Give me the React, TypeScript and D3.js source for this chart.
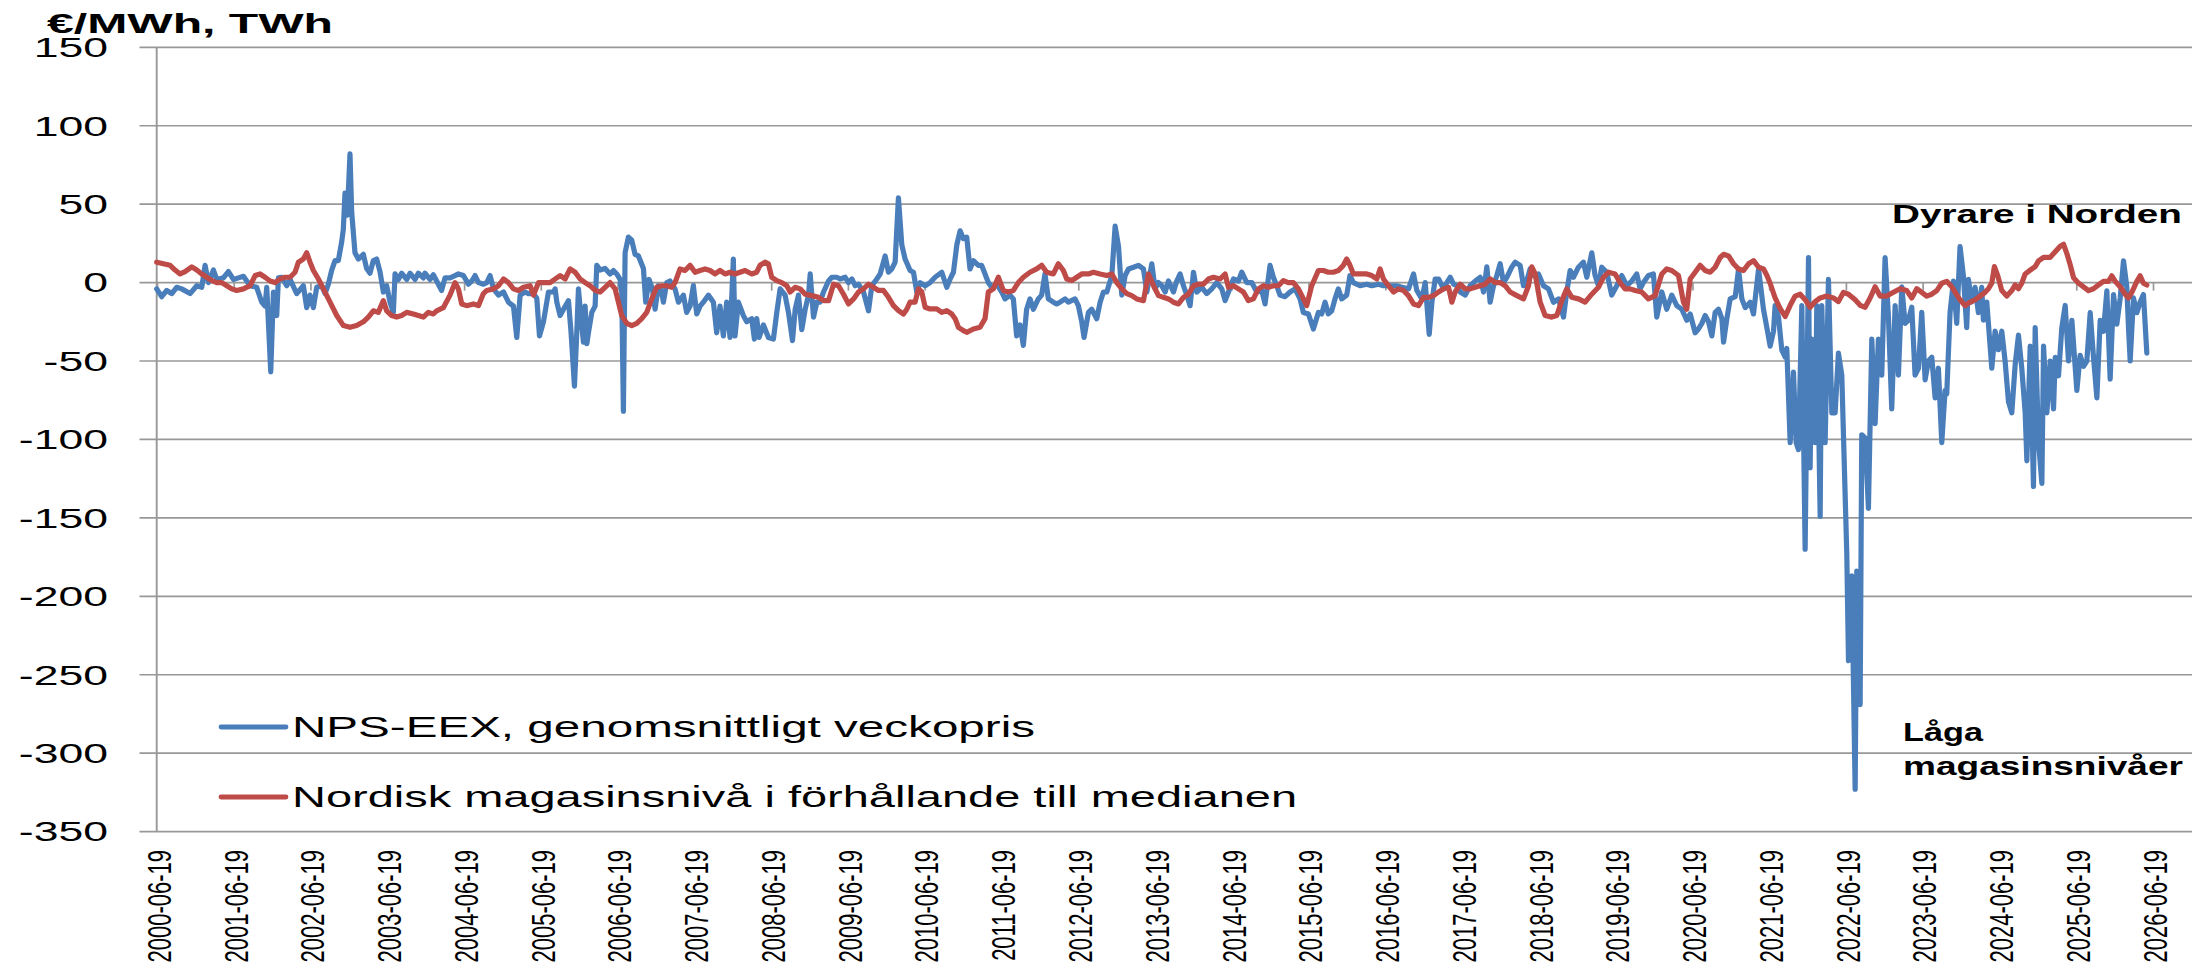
import React from "react";
import * as d3 from "d3";

const W = 2192;
const H = 968;

const chartTitle = "€/MWh, TWh";
const yTicks = [150, 100, 50, 0, -50, -100, -150, -200, -250, -300, -350];
const xTickLabels = [
  "2000-06-19", "2001-06-19", "2002-06-19", "2003-06-19", "2004-06-19", "2005-06-19",
  "2006-06-19", "2007-06-19", "2008-06-19", "2009-06-19", "2010-06-19", "2011-06-19",
  "2012-06-19", "2013-06-19", "2014-06-19", "2015-06-19", "2016-06-19", "2017-06-19",
  "2018-06-19", "2019-06-19", "2020-06-19", "2021-06-19", "2022-06-19", "2023-06-19",
  "2024-06-19", "2025-06-19", "2026-06-19",
];
const seriesNames = [
  "NPS-EEX, genomsnittligt veckopris",
  "Nordisk magasinsnivå i förhållande till medianen",
];
const noteHigh = "Dyrare i Norden";
const noteLow = ["Låga", "magasinsnivåer"];

// NPS-EEX price difference, [decimal year, €/MWh]
const price2000_2005: [number, number][] = [
  [2000.454,-4],[2000.519,-9],[2000.584,-5],[2000.649,-7],[2000.714,-3],[2000.779,-4],[2000.888,-7],[2000.975,-2],
  [2001.040,-3],[2001.083,11],[2001.127,0],[2001.192,8],[2001.235,2],[2001.322,3],[2001.387,7],[2001.453,2],
  [2001.518,3],[2001.583,4],[2001.670,-2],[2001.756,-3],[2001.822,-12.5],[2001.865,-15],[2001.887,-3],[2001.939,-57],
  [2001.974,-6],[2002.017,-21],[2002.039,3],[2002.082,3.4],[2002.147,-2],[2002.191,2],[2002.278,-7],[2002.364,-2],
  [2002.408,-16],[2002.451,-8],[2002.495,-16],[2002.538,-3],[2002.603,-2],[2002.647,-7],[2002.690,-1],[2002.734,8],
  [2002.777,14],[2002.820,14],[2002.864,26],[2002.885,34],[2002.907,57],[2002.937,43],[2002.972,82],[2002.994,45],
  [2003.037,19],[2003.081,15],[2003.146,18],[2003.189,9],[2003.233,6],[2003.276,14],[2003.320,15],[2003.363,7],
  [2003.407,-6],[2003.450,-2],[2003.494,-12.5],[2003.537,-19],[2003.559,5.5],[2003.602,2],[2003.645,6],[2003.711,2],
  [2003.754,6],[2003.819,2],[2003.863,6],[2003.928,3],[2003.949,6],[2004.015,2],[2004.058,5],[2004.101,1],
  [2004.166,-5],[2004.210,3],[2004.275,3],[2004.340,4.5],[2004.384,5.5],[2004.449,4.5],[2004.514,-1],[2004.558,1],
  [2004.601,4.5],[2004.645,0],[2004.710,-1],[2004.753,0],[2004.796,4.5],[2004.840,-4],[2004.905,-8],[2004.970,-6],
  [2005.035,-12.5],[2005.100,-15],[2005.143,-35],[2005.187,-8],[2005.252,-6],[2005.295,-7],[2005.360,-7],[2005.404,-10],
  [2005.439,-34],[2005.491,-25],[2005.556,-6],[2005.621,-6],
];
const price2005_2011: [number, number][] = [
  [2005.643,-4],[2005.665,-12.5],[2005.708,-21],[2005.752,-17],[2005.817,-11.5],[2005.851,-32],[2005.895,-66],[2005.925,-32],
  [2005.947,-4],[2005.982,-23],[2006.012,-38],[2006.034,-15],[2006.056,-39],[2006.077,-32],[2006.121,-19],[2006.164,-15],
  [2006.186,11],[2006.229,8],[2006.294,9],[2006.359,5.5],[2006.403,7.7],[2006.446,5.5],[2006.490,2],[2006.511,-6],
  [2006.533,-82],[2006.555,19],[2006.598,29],[2006.642,27],[2006.685,18],[2006.729,17],[2006.794,9],[2006.824,-12.5],
  [2006.867,2],[2006.911,-4],[2006.946,-17],[2006.989,-2],[2007.032,-6],[2007.054,-12.5],[2007.098,0],[2007.141,1],
  [2007.206,-4],[2007.250,-12.5],[2007.315,-8],[2007.358,-19],[2007.402,-15],[2007.445,-2],[2007.489,-20],[2007.532,-15],
  [2007.575,-12.5],[2007.640,-8],[2007.706,-12.5],[2007.749,-32],[2007.792,-15],[2007.836,-34],[2007.879,-12.5],[2007.923,-35],
  [2007.966,15],[2007.988,-34],[2008.031,-12.5],[2008.096,-21],[2008.140,-25],[2008.205,-23],[2008.240,-36],[2008.270,-23],
  [2008.301,-35],[2008.357,-27],[2008.422,-35],[2008.487,-36],[2008.531,-19],[2008.574,-4],[2008.639,-8],[2008.683,-19],
  [2008.735,-37],[2008.770,-17],[2008.813,-8],[2008.856,-30],[2008.900,-17],[2008.943,-8],[2008.965,5.5],[2009.008,-22],
  [2009.052,-12.5],[2009.095,-12.5],[2009.138,-6],[2009.204,1],[2009.247,3.4],[2009.312,3.4],[2009.356,2.3],[2009.421,3.4],
  [2009.464,0],[2009.508,2.3],[2009.551,-2],[2009.594,-1],[2009.660,-6],[2009.725,-18],[2009.768,-2],[2009.833,2.3],
  [2009.877,5.5],[2009.942,17],[2009.985,6.6],[2010.029,8.7],[2010.072,13],[2010.115,54],[2010.159,24],[2010.202,15],
  [2010.267,7.7],[2010.311,6.6],[2010.354,-6],[2010.398,0],[2010.463,-2],[2010.528,0],[2010.593,3.4],[2010.680,6.6],
  [2010.745,-3],[2010.789,2.3],[2010.832,6.6],[2010.876,24],[2010.919,33],[2010.962,28],
];
const price2011_2016: [number, number][] = [
  [2011.005,29],[2011.048,8.7],[2011.092,14],[2011.157,11],[2011.200,11],[2011.244,5.5],[2011.287,0],[2011.330,-3],
  [2011.396,-1],[2011.461,-6],[2011.504,-10.4],[2011.569,-8],[2011.613,-10.4],[2011.656,-34],[2011.700,-27],[2011.743,-40],
  [2011.786,-17],[2011.830,-10.4],[2011.873,-17],[2011.938,-10.4],[2011.982,-8],[2012.025,5.5],[2012.069,-10.4],[2012.134,-12.5],
  [2012.177,-13.6],[2012.221,-12.5],[2012.286,-10.4],[2012.329,-12.5],[2012.416,-10.4],[2012.459,-14.7],[2012.503,-25],[2012.533,-35],
  [2012.590,-19],[2012.633,-17],[2012.698,-23],[2012.742,-12.5],[2012.785,-6],[2012.829,-6],[2012.894,4.5],[2012.937,36],
  [2012.981,23],[2013.024,-8],[2013.067,4.5],[2013.111,8.7],[2013.176,9.8],[2013.241,11],[2013.306,8.7],[2013.350,-6],
  [2013.415,12],[2013.458,-4],[2013.502,0],[2013.545,-2],[2013.589,-6],[2013.632,1],[2013.697,-6],[2013.740,1],
  [2013.784,5.5],[2013.827,-2],[2013.871,-8],[2013.914,-14.7],[2013.958,6.6],[2014.001,-6],[2014.066,-3],[2014.131,-7],
  [2014.196,-4],[2014.262,0],[2014.327,-4],[2014.370,-11.5],[2014.414,-6],[2014.479,2.3],[2014.544,1],[2014.587,6.6],
  [2014.653,0],[2014.718,0],[2014.783,-6],[2014.848,-5],[2014.891,-13.6],[2014.956,11],[2014.999,3.4],[2015.043,-2],
  [2015.086,-8],[2015.151,-9],[2015.217,-6],[2015.282,-4],[2015.347,-10.4],[2015.390,-19],[2015.456,-20],[2015.521,-29.6],
  [2015.586,-19],[2015.629,-20],[2015.673,-12.5],[2015.716,-20],[2015.760,-18],[2015.803,-10.4],[2015.846,-4],[2015.890,-10.4],
  [2015.955,-8],[2015.998,4.5],[2016.042,0],[2016.129,-2],[2016.215,-1],
];
const price2016_2021: [number, number][] = [
  [2016.281,-2],[2016.368,-1],[2016.433,-2],[2016.520,-2],[2016.607,-2],[2016.672,-3],[2016.759,-4],[2016.824,5.5],
  [2016.867,-5],[2016.932,-10.4],[2016.976,0],[2017.028,-33],[2017.063,-12.5],[2017.106,2.3],[2017.150,2.3],[2017.215,-4],
  [2017.258,0],[2017.301,3.4],[2017.345,-1],[2017.388,-2],[2017.432,-6],[2017.497,-8],[2017.562,-2],[2017.627,1],
  [2017.692,3.4],[2017.736,-6],[2017.779,10],[2017.822,-12.5],[2017.866,-2],[2017.909,4.5],[2017.953,12],[2017.996,0],
  [2018.040,3.4],[2018.105,10],[2018.148,13],[2018.213,11],[2018.257,-2],[2018.300,1],[2018.343,8.7],[2018.387,4.5],
  [2018.452,5.5],[2018.517,-2],[2018.582,-4],[2018.647,-12.5],[2018.713,-10.4],[2018.778,-22],[2018.821,-6],[2018.865,7.7],
  [2018.908,3.4],[2018.973,9.8],[2019.038,13],[2019.082,3.4],[2019.103,8.7],[2019.147,19],[2019.190,4.5],[2019.234,-2],
  [2019.277,9.8],[2019.342,6.6],[2019.407,-8],[2019.473,-2],[2019.538,4.5],[2019.603,-2],[2019.668,1],[2019.733,5.5],
  [2019.777,-4],[2019.820,0],[2019.885,4.5],[2019.950,5.5],[2019.994,-22],[2020.059,-6],[2020.124,-17],[2020.189,-8],
  [2020.254,-14.7],[2020.319,-17],[2020.384,-24],[2020.428,-20],[2020.493,-32],[2020.536,-29.6],[2020.580,-26],[2020.623,-21],
  [2020.667,-25],[2020.710,-34],[2020.753,-19],[2020.797,-17],[2020.840,-23],[2020.862,-38],[2020.905,-23],[2020.948,-10.4],
  [2021.014,-9],[2021.057,8.7],[2021.100,-10.4],[2021.144,-16],[2021.209,-12.5],[2021.252,-20],[2021.318,8.7],
];
const price2021_2023: [number, number][] = [
  [2021.382,-17],[2021.426,-28.7],[2021.469,-40.5],[2021.513,-31],[2021.534,-14.6],[2021.578,-22],[2021.621,-43],[2021.665,-47.5],
  [2021.686,-42],[2021.730,-102],[2021.773,-57],[2021.808,-102],[2021.838,-106.5],[2021.882,-14.6],[2021.925,-170],[2021.969,16],
  [2021.990,-118],[2022.012,-36],[2022.055,-102],[2022.077,-14.6],[2022.121,-149],[2022.142,-14.6],[2022.186,-102],[2022.229,2],
  [2022.273,-83],[2022.316,-83],[2022.359,-45],[2022.403,-59],[2022.468,-173],[2022.490,-241],[2022.533,-187],[2022.577,-323],
  [2022.598,-184],[2022.642,-269],[2022.663,-97],[2022.707,-99],[2022.750,-144],[2022.794,-36],[2022.837,-90],[2022.880,-36],
  [2022.924,-59],[2022.967,16],[2023.011,-22],[2023.054,-80.5],[2023.098,-14.6],[2023.141,-59],[2023.185,-2.7],[2023.228,-26],
  [2023.271,-24],[2023.315,-15.7],[2023.358,-59],[2023.402,-54.6],[2023.445,-19],[2023.489,-62],[2023.532,-50],[2023.576,-47.6],
  [2023.619,-73.5],[2023.662,-54.6],[2023.706,-102],[2023.749,-68.8],[2023.771,-71],[2023.814,-19],[2023.858,1],[2023.901,-26],
];
const price2024_2026: [number, number][] = [
  [2023.944,23],[2023.988,4.3],[2024.031,-28.7],[2024.053,2],[2024.096,-12.4],[2024.140,-3],[2024.183,-19.2],[2024.226,-3],
  [2024.248,-24],[2024.292,-12.4],[2024.357,-54.6],[2024.400,-31],[2024.443,-42.8],[2024.487,-31],[2024.530,-50],[2024.574,-76],
  [2024.617,-83],[2024.661,-52.3],[2024.704,-33.5],[2024.747,-54.6],[2024.791,-83],[2024.813,-113.6],[2024.856,-40.5],[2024.899,-130],
  [2024.921,-28.7],[2024.965,-101.8],[2025.008,-128],[2025.030,-40.5],[2025.073,-83],[2025.117,-50],[2025.160,-80.6],[2025.182,-47.6],
  [2025.225,-59.4],[2025.268,-28.7],[2025.312,-14.6],[2025.355,-50],[2025.399,-24],[2025.464,-68.8],[2025.507,-46.4],[2025.551,-53.4],
  [2025.594,-50],[2025.638,-19.2],[2025.681,-47.6],[2025.725,-73.5],[2025.768,-24],[2025.811,-31],[2025.855,-5.3],[2025.898,-61.6],
  [2025.942,-7.6],[2025.985,-26.5],[2026.029,-9.8],[2026.072,13.8],[2026.115,-2.7],[2026.137,-28.7],[2026.159,-50],[2026.202,-9.8],
  [2026.246,-19.2],[2026.289,-12.4],[2026.332,-7.6],[2026.376,-45],
];

// Nordic reservoir level relative to median, [decimal year, TWh]
const reservoir2000_2005: [number, number][] = [
  [2000.454,13],[2000.541,12],[2000.628,11],[2000.693,8],[2000.758,5.5],[2000.823,7],[2000.910,10],[2000.975,8],
  [2001.040,5.5],[2001.105,3.4],[2001.170,1.3],[2001.235,0],[2001.301,0],[2001.366,-2],[2001.431,-4],[2001.496,-5],
  [2001.583,-4],[2001.670,-2],[2001.735,4.5],[2001.800,5.5],[2001.865,3.4],[2001.930,1],[2001.995,0],[2002.060,2.3],
  [2002.126,3.4],[2002.191,3.4],[2002.256,6.6],[2002.299,13],[2002.364,15],[2002.408,19],[2002.451,13],[2002.495,7.7],
  [2002.560,2.3],[2002.625,-4],[2002.712,-12.5],[2002.799,-21],[2002.886,-27.4],[2002.972,-28.5],[2003.059,-27.4],[2003.146,-25],
  [2003.211,-22],[2003.276,-18],[2003.341,-19],[2003.407,-11.5],[2003.450,-18],[2003.515,-21],[2003.580,-22],[2003.645,-21],
  [2003.711,-19],[2003.798,-20],[2003.863,-21],[2003.928,-22],[2003.993,-19],[2004.058,-20],[2004.101,-18],[2004.188,-16],
  [2004.275,-8],[2004.340,0],[2004.384,-4],[2004.427,-13.6],[2004.492,-14.7],[2004.579,-13.6],[2004.644,-14.7],[2004.709,-7],
  [2004.753,-5],[2004.840,-4],[2004.905,-2],[2004.970,2.3],[2005.035,0],[2005.100,-4],[2005.165,-5],[2005.230,-3],
  [2005.317,-2],[2005.361,-8],[2005.426,0],[2005.491,0],[2005.578,0],
];
const reservoir2005_2011: [number, number][] = [
  [2005.643,2.3],[2005.708,4.5],[2005.773,2.3],[2005.838,8.7],[2005.904,6.6],[2005.969,2.3],[2006.034,0],[2006.099,-2],
  [2006.164,-5],[2006.229,-6],[2006.294,-3],[2006.359,0],[2006.425,-4],[2006.468,-12.5],[2006.511,-21],[2006.577,-26],
  [2006.642,-27.4],[2006.707,-26],[2006.772,-23],[2006.837,-19],[2006.902,-10.4],[2006.967,-3],[2007.032,-2],[2007.098,-2],
  [2007.163,-3],[2007.206,0],[2007.271,8.7],[2007.336,7.7],[2007.402,11],[2007.467,6.6],[2007.532,7.7],[2007.597,8.7],
  [2007.662,7.7],[2007.727,5.5],[2007.792,7.7],[2007.858,5.5],[2007.923,6.6],[2007.988,5.5],[2008.053,6.6],[2008.118,7.7],
  [2008.205,5.5],[2008.270,6.6],[2008.313,11],[2008.379,13],[2008.422,12],[2008.465,3.4],[2008.530,1.3],[2008.596,0],
  [2008.661,-2],[2008.704,-6],[2008.769,-3],[2008.834,-4],[2008.900,-7.4],[2008.986,-8.3],[2009.073,-9.4],[2009.139,-11.5],
  [2009.204,-11.5],[2009.269,-1],[2009.334,-2],[2009.399,-7.4],[2009.464,-13.6],[2009.530,-10.4],[2009.595,-6],[2009.660,-4],
  [2009.725,-1],[2009.790,-3],[2009.855,-5],[2009.920,-5],[2009.985,-9.4],[2010.050,-14.7],[2010.116,-17.9],[2010.181,-20],
  [2010.224,-17],[2010.267,-12.5],[2010.332,-12.5],[2010.376,-4],[2010.419,-6],[2010.463,-15.7],[2010.528,-16.8],[2010.615,-16.8],
  [2010.680,-19],[2010.745,-17.9],[2010.810,-20],[2010.854,-23],[2010.897,-28.5],[2010.962,-30.6],
];
const reservoir2011_2016: [number, number][] = [
  [2011.005,-31.7],[2011.092,-29.6],[2011.179,-28.5],[2011.244,-23],[2011.287,-6],[2011.352,-4],[2011.417,3.4],[2011.482,-5],
  [2011.548,-6],[2011.613,-5],[2011.678,0],[2011.743,3.4],[2011.830,6.6],[2011.917,8.7],[2011.982,11],[2012.047,6.6],
  [2012.134,5.5],[2012.199,12],[2012.264,7.7],[2012.308,2.3],[2012.373,1.3],[2012.438,3.4],[2012.503,5.5],[2012.590,5.5],
  [2012.655,6.6],[2012.742,5.5],[2012.829,4.5],[2012.894,5.5],[2012.959,0],[2013.024,-4],[2013.089,-7],[2013.154,-8.3],
  [2013.219,-10.4],[2013.306,-11.5],[2013.371,5.5],[2013.437,-2],[2013.502,-8.3],[2013.567,-9.4],[2013.632,-10.4],[2013.697,-12.5],
  [2013.762,-13.6],[2013.827,-9.4],[2013.892,-7.4],[2013.958,-2],[2014.023,-1],[2014.088,-1],[2014.153,2.3],[2014.218,3.4],
  [2014.305,2.3],[2014.370,5.5],[2014.414,-3],[2014.479,-2],[2014.544,-4],[2014.609,-6],[2014.674,-11.5],[2014.739,-10.4],
  [2014.804,-4],[2014.870,-2],[2014.935,-3],[2015.000,-2],[2015.065,-2],[2015.130,1.3],[2015.195,0],[2015.260,0],
  [2015.326,-4],[2015.391,-10.4],[2015.434,-14.7],[2015.499,-2],[2015.586,7.7],[2015.651,7.7],[2015.716,6.6],[2015.781,6.6],
  [2015.847,7.7],[2015.912,11],[2015.955,15],[2015.998,11],[2016.042,5.5],[2016.129,5.5],[2016.216,5.5],
];
const reservoir2016_2021: [number, number][] = [
  [2016.281,4.5],[2016.346,2.3],[2016.389,8.7],[2016.433,2.3],[2016.498,-2],[2016.563,-6],[2016.628,-4],[2016.693,-5],
  [2016.758,-8.3],[2016.824,-13.6],[2016.889,-14.7],[2016.954,-9.4],[2017.019,-9.4],[2017.084,-8.3],[2017.149,-6],[2017.215,-4],
  [2017.280,-3],[2017.323,-12.5],[2017.366,-6],[2017.432,-1],[2017.497,-4],[2017.562,-4],[2017.627,-3],[2017.692,-2],
  [2017.757,-1],[2017.822,2.3],[2017.888,0],[2017.953,0],[2018.018,-2],[2018.083,-6],[2018.170,-8.3],[2018.257,-10.4],
  [2018.322,-2],[2018.365,10],[2018.409,5.5],[2018.474,-12.5],[2018.539,-21],[2018.626,-22],[2018.691,-21],[2018.756,-11.5],
  [2018.821,-4],[2018.886,-9.4],[2018.973,-10.4],[2019.060,-12.5],[2019.147,-7.4],[2019.234,-3],[2019.299,3.4],[2019.364,6.6],
  [2019.451,5.5],[2019.516,0],[2019.581,-4],[2019.646,-4],[2019.712,-5],[2019.798,-6],[2019.885,-10.4],[2019.972,-8.3],
  [2020.059,5.5],[2020.124,8.7],[2020.189,7.7],[2020.276,4.5],[2020.341,-12.5],[2020.384,-17],[2020.428,2.3],[2020.493,6.6],
  [2020.558,11],[2020.623,7.7],[2020.688,6.6],[2020.753,9.8],[2020.818,16],[2020.862,18],[2020.927,17],[2020.992,12],
  [2021.057,8.7],[2021.122,7.7],[2021.188,12],[2021.253,14],[2021.318,9.8],[2021.383,8.7],[2021.427,4.5],
];
const reservoir2021_2026: [number, number][] = [
  [2021.469,-0.4],[2021.534,-9.8],[2021.600,-16.6],[2021.665,-21.6],[2021.730,-14.5],[2021.795,-8.6],[2021.860,-7.4],[2021.925,-10.9],
  [2021.990,-15.7],[2022.056,-12.1],[2022.121,-9.8],[2022.207,-8.6],[2022.294,-9.8],[2022.359,-12.1],[2022.425,-6.2],[2022.490,-7.4],
  [2022.577,-11],[2022.642,-14.5],[2022.707,-15.7],[2022.772,-9.8],[2022.837,-2.7],[2022.902,-8.6],[2022.989,-8.6],[2023.076,-6.2],
  [2023.163,-3.9],[2023.250,-5.1],[2023.315,-9.8],[2023.380,-3.9],[2023.445,-6.2],[2023.510,-8.6],[2023.575,-7.4],[2023.641,-5.1],
  [2023.706,-0.4],[2023.771,0.8],[2023.836,-2.7],[2023.944,-11],[2024.009,-14.6],[2024.074,-12.4],[2024.140,-11],[2024.205,-8.6],
  [2024.270,-6.2],[2024.313,-3.9],[2024.357,-0.4],[2024.391,10.2],[2024.435,4.3],[2024.487,-5.1],[2024.552,-8.6],[2024.617,-5.1],
  [2024.661,-1.5],[2024.704,-3.9],[2024.747,-0.4],[2024.791,5.5],[2024.856,7.9],[2024.921,10.2],[2024.965,13.8],[2025.030,16.1],
  [2025.117,16.1],[2025.182,19.7],[2025.247,23.2],[2025.291,24.4],[2025.334,18.5],[2025.377,11.4],[2025.421,3.1],[2025.486,-0.4],
  [2025.551,-2.7],[2025.616,-5.1],[2025.681,-3.9],[2025.746,-1.5],[2025.811,0.8],[2025.876,0.8],[2025.920,4.3],[2025.963,0.8],
  [2026.028,-2.7],[2026.094,-7.4],[2026.137,-9.8],[2026.180,-6.2],[2026.246,0.8],[2026.289,4.3],[2026.332,-0.4],[2026.376,-1.5],
];

const priceSeries = [
  ...price2000_2005, ...price2005_2011, ...price2011_2016,
  ...price2016_2021, ...price2021_2023, ...price2024_2026,
];
const reservoirSeries = [
  ...reservoir2000_2005, ...reservoir2005_2011, ...reservoir2011_2016,
  ...reservoir2016_2021, ...reservoir2021_2026,
];

const BLUE = "#4a7ebb";
const RED = "#be4b48";
const GRID = "#989898";
const FONT = "'Liberation Sans', Arial, sans-serif";

const parseDay = d3.utcParse("%Y-%m-%d");
function decToDate(d: number): Date {
  const yr = Math.floor(d);
  const s = Date.UTC(yr, 0, 1);
  const e = Date.UTC(yr + 1, 0, 1);
  return new Date(s + (d - yr) * (e - s));
}

export default function App() {
  const x = d3
    .scaleUtc()
    .domain([parseDay(xTickLabels[0]) as Date, parseDay(xTickLabels[xTickLabels.length - 1]) as Date])
    .range([157.5, 2153.5]);
  const y = d3.scaleLinear().domain([-350, 150]).range([831.6, 47.3]);
  const line = d3
    .line<[number, number]>()
    .x((d) => x(decToDate(d[0])))
    .y((d) => y(d[1]))
    .curve(d3.curveLinear);

  const plotLeft = x.range()[0];
  const gridLeft = plotLeft - 18;
  const gridRight = W;

  return (
    <svg
      width={W}
      height={H}
      viewBox={`0 0 ${W} ${H}`}
      style={{ position: "absolute", left: 0, top: 0, background: "#fff" }}
      fontFamily={FONT}
    >
      <rect x={0} y={0} width={W} height={H} fill="#fff" />
      {yTicks.map((t) => (
        <line key={t} x1={gridLeft} x2={gridRight} y1={y(t)} y2={y(t)} stroke={GRID} strokeWidth={1.7} />
      ))}
      <line x1={plotLeft - 0.8} x2={plotLeft - 0.8} y1={y(150)} y2={y(-350)} stroke={GRID} strokeWidth={1.9} />
      {xTickLabels.map((lab) => {
        const px = x(parseDay(lab) as Date);
        return <line key={"t" + lab} x1={px} x2={px} y1={y(0)} y2={y(0) + 8} stroke={GRID} strokeWidth={1.7} />;
      })}
      {yTicks.map((t) => (
        <text
          key={"yl" + t}
          transform={`translate(108,${y(t) + 9.8}) scale(1.65,1)`}
          textAnchor="end"
          fontSize={27}
          fill="#000"
        >
          {t}
        </text>
      ))}
      {xTickLabels.map((lab) => {
        const px = x(parseDay(lab) as Date) + 1.5;
        return (
          <text
            key={"xl" + lab}
            transform={`translate(${px + 11.8},850) scale(1.5,1) rotate(-90)`}
            textAnchor="end"
            fontSize={22}
            fill="#000"
          >
            {lab}
          </text>
        );
      })}
      <text x={47} y={33} fontSize={28} fontWeight="bold" textLength={286} lengthAdjust="spacingAndGlyphs" fill="#000">
        {chartTitle}
      </text>
      <path d={line(priceSeries) || ""} fill="none" stroke={BLUE} strokeWidth={5.2} strokeLinejoin="round" strokeLinecap="round" />
      <path d={line(reservoirSeries) || ""} fill="none" stroke={RED} strokeWidth={5.2} strokeLinejoin="round" strokeLinecap="round" />
      <line x1={221} x2={286} y1={727} y2={727} stroke={BLUE} strokeWidth={4.8} strokeLinecap="round" />
      <text x={292} y={737} fontSize={30} textLength={743} lengthAdjust="spacingAndGlyphs" fill="#000">
        {seriesNames[0]}
      </text>
      <line x1={221} x2={286} y1={797} y2={797} stroke={RED} strokeWidth={4.8} strokeLinecap="round" />
      <text x={292} y={807} fontSize={30} textLength={1005} lengthAdjust="spacingAndGlyphs" fill="#000">
        {seriesNames[1]}
      </text>
      <text x={1892} y={223} fontSize={26} fontWeight="bold" textLength={290} lengthAdjust="spacingAndGlyphs" fill="#000">
        {noteHigh}
      </text>
      <text x={1903} y={741} fontSize={26} fontWeight="bold" textLength={80} lengthAdjust="spacingAndGlyphs" fill="#000">
        {noteLow[0]}
      </text>
      <text x={1903} y={775} fontSize={26} fontWeight="bold" textLength={280} lengthAdjust="spacingAndGlyphs" fill="#000">
        {noteLow[1]}
      </text>
    </svg>
  );
}
